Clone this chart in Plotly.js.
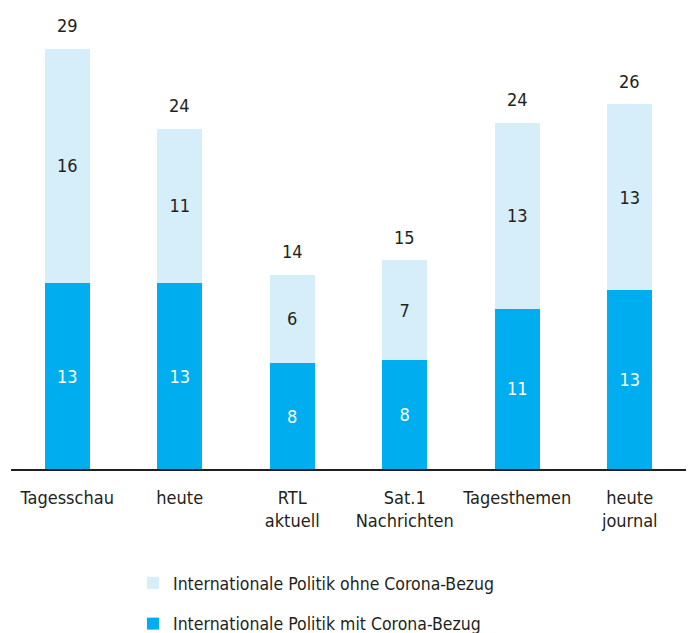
<!DOCTYPE html>
<html>
<head>
<meta charset="utf-8">
<script src="https://cdn.plot.ly/plotly-3.0.1.min.js"></script>
<style>
  html, body { margin: 0; padding: 0; background: #fff; }
  #chart { width: 691px; height: 633px; }
</style>
</head>
<body>
<div id="chart"></div>
<script>
// Sendungen (x-axis categories)
const shows = ['Tagesschau', 'heute', 'RTL<br>aktuell', 'Sat.1<br>Nachrichten', 'Tagesthemen', 'heute<br>journal'];

// bar segment sizes (printed numbers are rounded)
const mitCorona = [13.0, 13.0, 7.4, 7.6, 11.2, 12.5];
const ohneCorona = [16.4, 10.8, 6.2, 7.0, 13.0, 13.0];

// numbers as printed in the chart
const mitLabels = ['13', '13', '8', '8', '11', '13'];
const ohneLabels = ['16', '11', '6', '7', '13', '13'];
const totalLabels = ['29', '24', '14', '15', '24', '26'];

const FONT = '"DejaVu Sans Condensed", "Liberation Sans", Arial, sans-serif';
const INK = '#231f20';
const DARK = '#00adee';
const LIGHT = '#d6edfa';

const totals = mitCorona.map((v, i) => v + ohneCorona[i]);

const traces = [
  {
    type: 'bar', x: shows, y: mitCorona, name: 'Internationale Politik mit Corona-Bezug',
    legendgroup: 'mit', legendrank: 2, marker: { color: DARK },
    text: mitLabels, textposition: 'inside', insidetextanchor: 'middle',
    textfont: { family: FONT, size: 18, color: '#ffffff' }, hoverinfo: 'skip',
  },
  {
    type: 'bar', x: shows, y: ohneCorona, name: 'Internationale Politik ohne Corona-Bezug',
    legendgroup: 'ohne', legendrank: 1, marker: { color: LIGHT },
    text: ohneLabels, textposition: 'inside', insidetextanchor: 'middle',
    textfont: { family: FONT, size: 18, color: INK }, hoverinfo: 'skip',
  },
];

const annotations = shows.map((s, i) => ({
  x: s, y: totals[i], xref: 'x', yref: 'y', text: totalLabels[i],
  showarrow: false, yshift: 23, font: { family: FONT, size: 18, color: INK },
}));

const layout = {
  width: 691, height: 633,
  paper_bgcolor: '#ffffff', plot_bgcolor: '#ffffff',
  font: { family: FONT, size: 18, color: INK },
  margin: { l: 11, r: 5, t: 20, b: 164 },
  barmode: 'stack', bargap: 0.6,
  showlegend: true,
  legend: {
    orientation: 'v', traceorder: 'grouped', tracegroupgap: 15,
    xref: 'paper', yref: 'container',
    x: (133 - 11) / 675, y: 1 - 565 / 633,
    xanchor: 'left', yanchor: 'top',
    font: { family: FONT, size: 17.5, color: INK },
    bgcolor: 'rgba(0,0,0,0)',
  },
  xaxis: {
    type: 'category', showline: true, linecolor: INK, linewidth: 2,
    ticks: '', showgrid: false, zeroline: false, fixedrange: true,
    ticklabelstandoff: 11, tickangle: 0,
    tickfont: { family: FONT, size: 18, color: INK },
  },
  yaxis: {
    range: [0, 31.4], showgrid: false, zeroline: false,
    showticklabels: false, showline: false, ticks: '', fixedrange: true,
  },
  annotations,
};

Plotly.newPlot('chart', traces, layout, { displayModeBar: false, staticPlot: true });
</script>
</body>
</html>
